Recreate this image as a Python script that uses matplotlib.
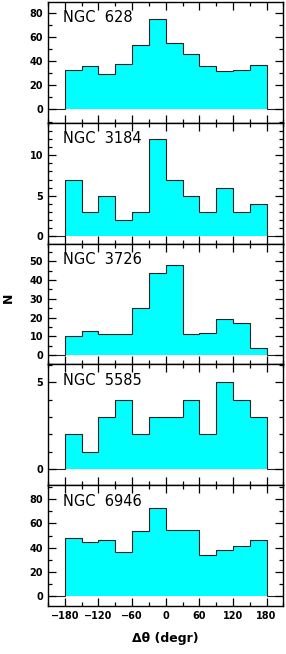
import numpy as np
import matplotlib.pyplot as plt
from matplotlib.ticker import MultipleLocator

# bin edges of the angle histograms (degrees)
edges = np.arange(-180, 181, 30)
outer_edges = np.arange(-210, 211, 30)

galaxies = ["NGC  628", "NGC  3184", "NGC  3726", "NGC  5585", "NGC  6946"]
n628 = [33, 36, 29, 38, 53, 75, 55, 46, 36, 32, 33, 37]
n3184 = [7, 3, 5, 2, 3, 12, 7, 5, 3, 6, 3, 4]
n3726 = [10, 13, 11, 11, 25, 44, 48, 11, 12, 19, 17, 4]
n5585 = [2, 1, 3, 4, 2, 3, 3, 4, 2, 5, 4, 3]
n6946 = [48, 45, 46, 36, 54, 73, 55, 55, 34, 38, 41, 46]
counts = [n628, n3184, n3726, n5585, n6946]

ylims = [(-11, 89), (-0.9, 14), (-5, 59.5), (-0.93, 6.03), (-8.5, 91.8)]
ymajor = [20, 5, 10, 5, 20]
yminor = [10, 1, 5, 1, 10]
xticks = [-180, -120, -60, 0, 60, 120, 180]

fig, axes = plt.subplots(5, 1, figsize=(2.86, 6.54), dpi=100, sharex=True)
fig.subplots_adjust(left=0.168, right=0.991, top=0.997, bottom=0.0734, hspace=0)

for ax, name, vals, yl, mj, mn in zip(axes, galaxies, counts, ylims, ymajor, yminor):
    ax.stairs(vals, edges, fill=True, color="#00ffff", lw=0)
    ax.stairs(np.r_[0, vals, 0], outer_edges, baseline=None,
              color="#222222", lw=0.8)
    ax.set_xlim(-210, 210)
    ax.set_ylim(*yl)
    ax.yaxis.set_major_locator(MultipleLocator(mj))
    ax.yaxis.set_minor_locator(MultipleLocator(mn))
    ax.xaxis.set_major_locator(MultipleLocator(60))
    ax.xaxis.set_minor_locator(MultipleLocator(30))
    ax.tick_params(which="both", direction="in", top=True, right=True,
                   labelsize=7, width=0.9)
    ax.tick_params(which="major", length=6)
    ax.tick_params(which="minor", length=3)
    for lab in ax.get_yticklabels():
        lab.set_fontweight("bold")
    for s in ax.spines.values():
        s.set_linewidth(1.0)
    ax.text(0.065, 0.93, name, transform=ax.transAxes, fontsize=10.5,
            ha="left", va="top")

axes[-1].set_xticks(xticks)
axes[-1].set_xticklabels([f"\u2212{abs(v)}" if v < 0 else str(v) for v in xticks],
                         fontweight="bold")
axes[-1].set_xlabel("\u0394\u03b8 (degr)", fontsize=9, fontweight="bold", labelpad=8)
fig.text(0.03, 0.545, "N", fontsize=9, fontweight="bold", rotation=90,
         ha="center", va="center")

fig.savefig("out.png", dpi=100)
